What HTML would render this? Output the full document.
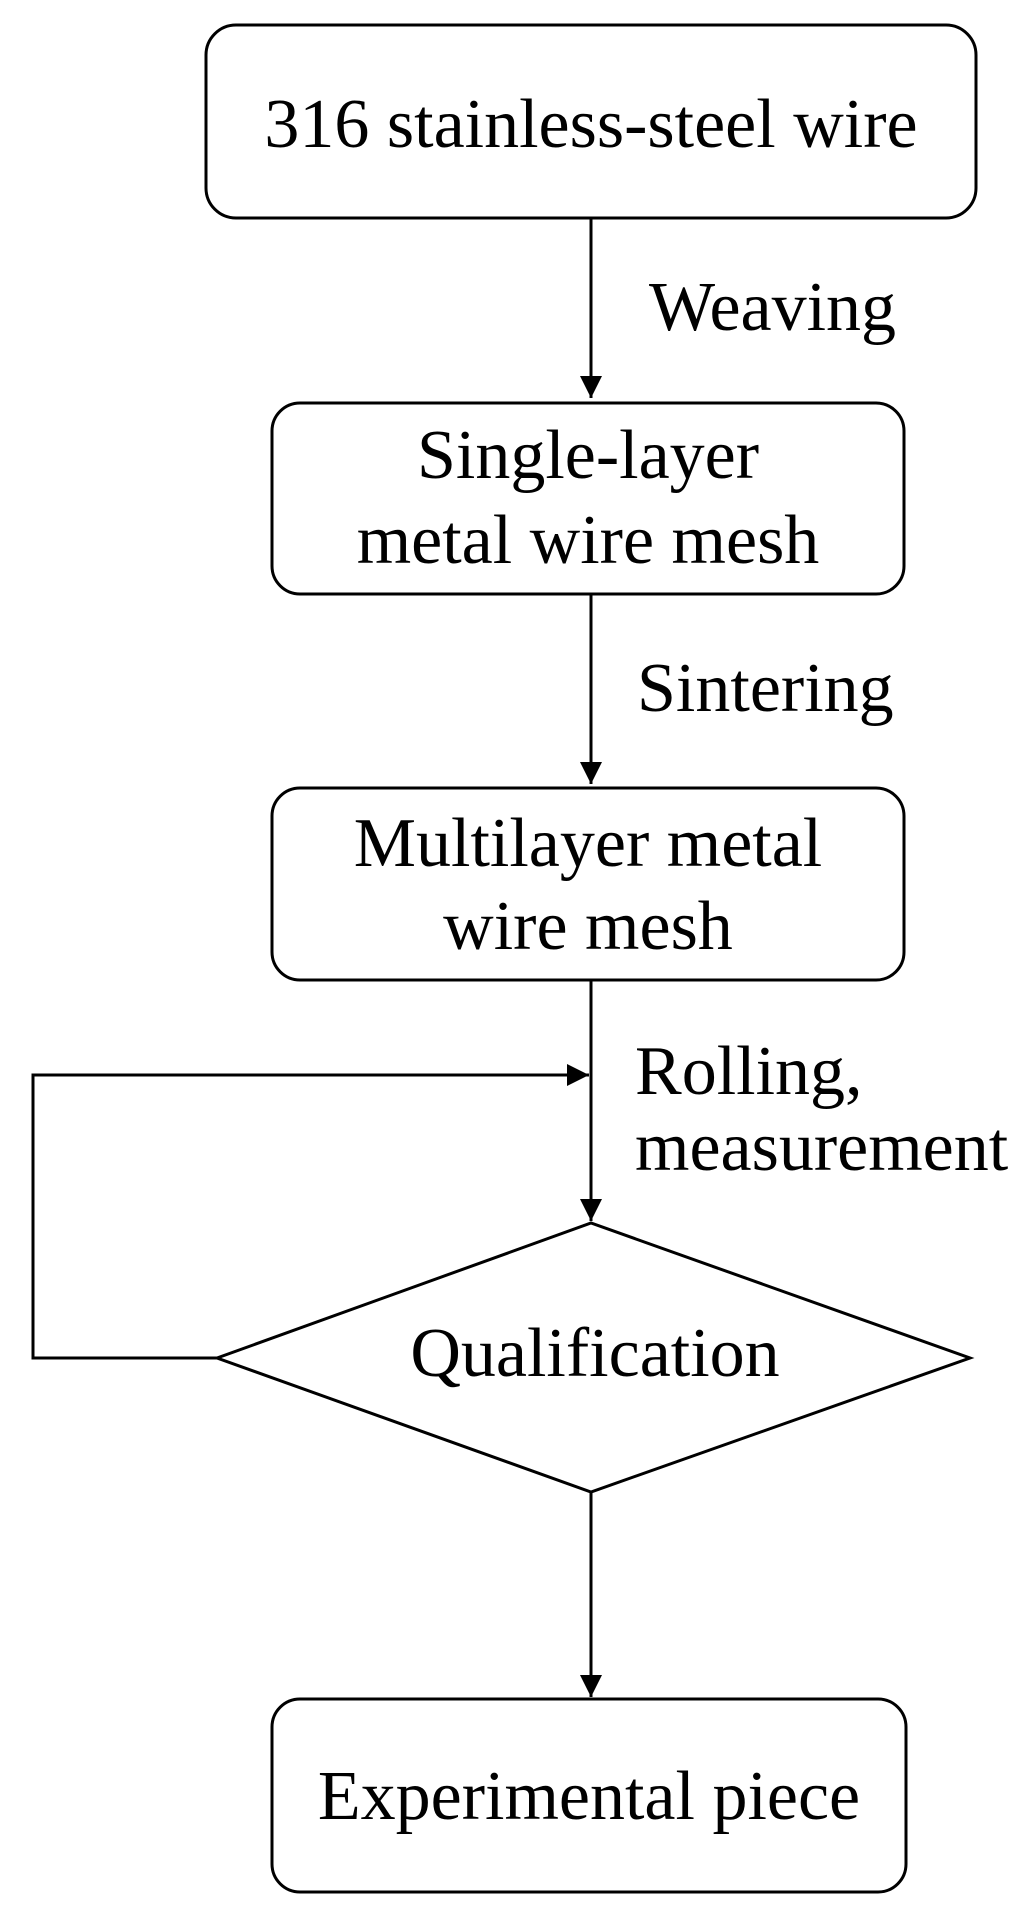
<!DOCTYPE html>
<html><head><meta charset="utf-8"><style>html,body{margin:0;padding:0;background:#fff}svg{display:block}</style></head>
<body>
<svg width="1029" height="1928" viewBox="0 0 1029 1928" xmlns="http://www.w3.org/2000/svg">
<defs><marker id="a" markerWidth="24" markerHeight="24" refX="22" refY="11" orient="auto" markerUnits="userSpaceOnUse"><path d="M0,0 L22,11 L0,22 Z" fill="#000"/></marker></defs>
<g fill="none" stroke="#000" stroke-width="3">
<rect x="206" y="25" width="770" height="193" rx="30"/>
<rect x="272" y="403" width="632" height="191" rx="28"/>
<rect x="272" y="788" width="632" height="192" rx="28"/>
<rect x="272" y="1699" width="634" height="193" rx="28"/>
<polygon points="217,1358 591,1223 970,1358 591,1492"/>
<line x1="591" y1="218" x2="591" y2="398" marker-end="url(#a)"/>
<line x1="591" y1="594" x2="591" y2="784" marker-end="url(#a)"/>
<line x1="591" y1="980" x2="591" y2="1221" marker-end="url(#a)"/>
<line x1="591" y1="1492" x2="591" y2="1697" marker-end="url(#a)"/>
<polyline points="217,1358 33,1358 33,1075 589,1075" marker-end="url(#a)"/>
</g>
<g font-family="'Liberation Serif', serif" font-size="70" fill="#000">
<text x="591" y="147" text-anchor="middle">316 stainless-steel wire</text>
<text x="649" y="330">Weaving</text>
<text x="588" y="478" text-anchor="middle">Single-layer</text>
<text x="588" y="563" text-anchor="middle">metal wire mesh</text>
<text x="637" y="711">Sintering</text>
<text x="588" y="866" text-anchor="middle">Multilayer metal</text>
<text x="588" y="949" text-anchor="middle">wire mesh</text>
<text x="635" y="1094">Rolling,</text>
<text x="635" y="1170">measurement</text>
<text x="595" y="1376" text-anchor="middle">Qualification</text>
<text x="589" y="1819" text-anchor="middle">Experimental piece</text>
</g>
</svg>
</body></html>
